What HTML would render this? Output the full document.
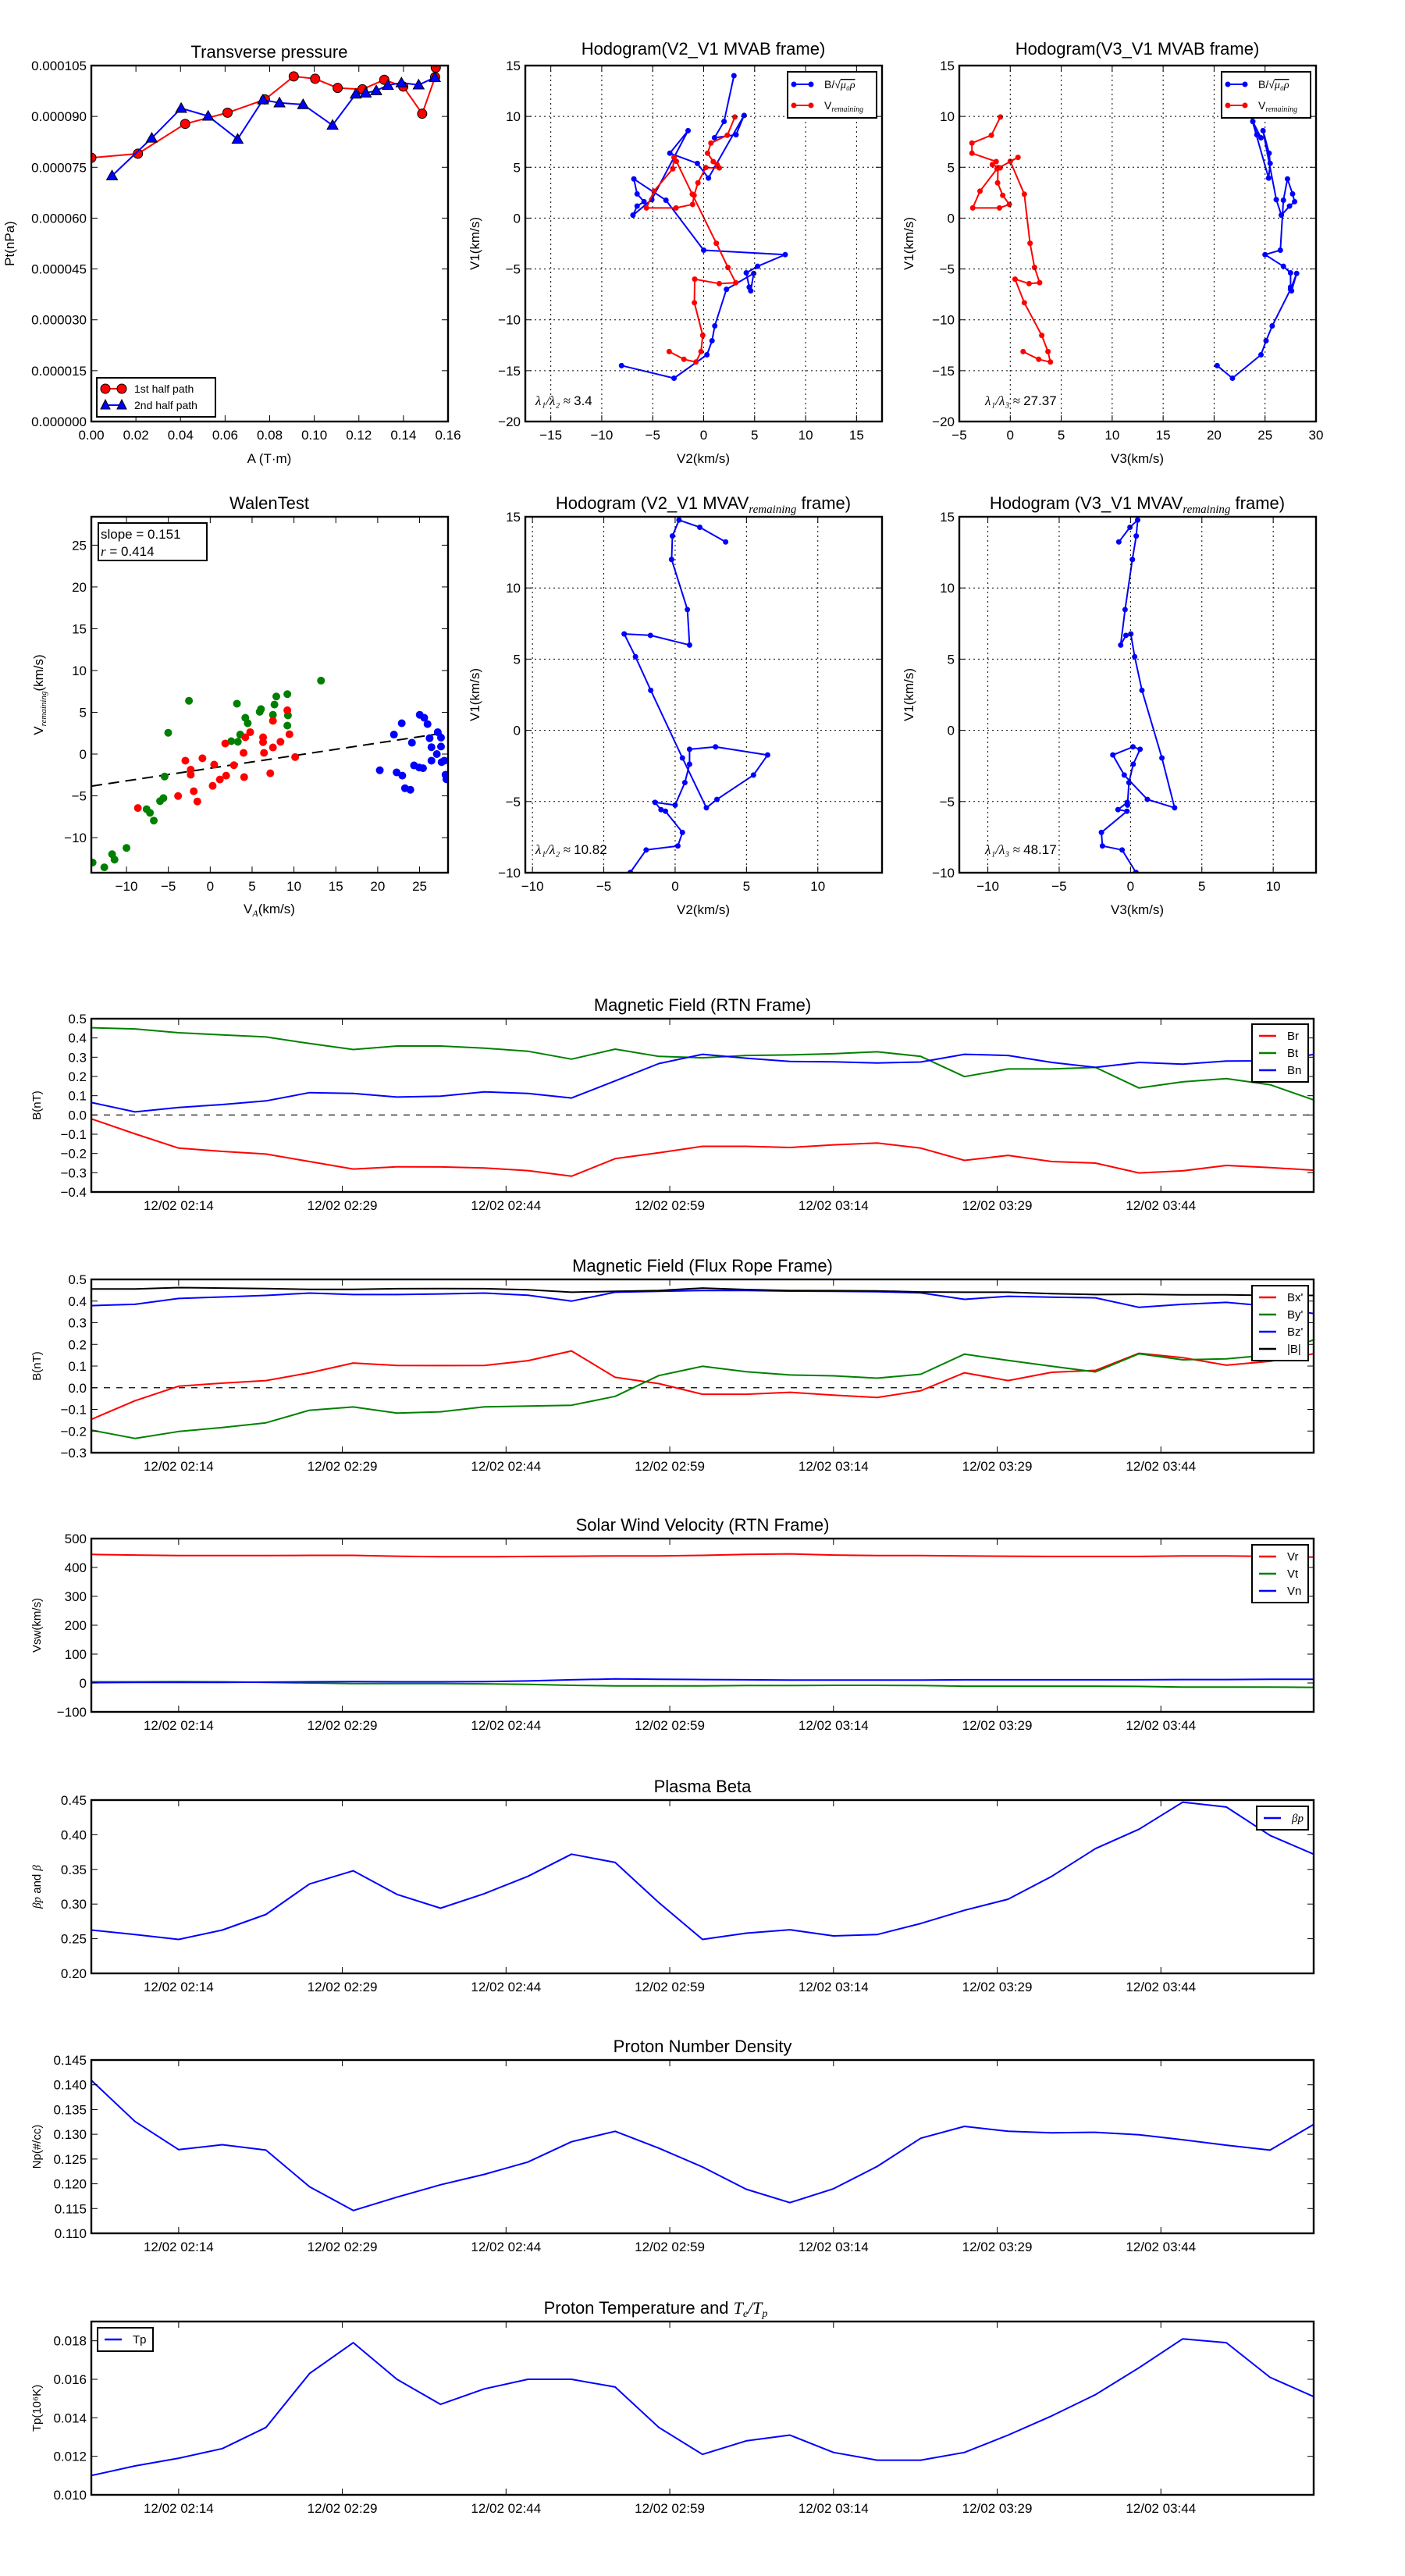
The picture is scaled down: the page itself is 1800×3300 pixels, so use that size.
<!DOCTYPE html>
<html><head><meta charset="utf-8"><title>Flux rope analysis</title>
<style>
html,body{margin:0;padding:0;background:#fff;}
svg{display:block;font-family:"Liberation Sans","DejaVu Sans",sans-serif;}
</style></head>
<body>
<svg id="fig" xmlns="http://www.w3.org/2000/svg" width="1800" height="3300" viewBox="0 0 1800 3300">
<rect x="0" y="0" width="1800" height="3300" fill="#fff"/>
</svg>
<script>
// ---------- Transverse pressure (units 1e-6 nPa) ----------
const ptA1 = [0, 0.0209, 0.0421, 0.0611, 0.0779, 0.0908, 0.1004, 0.1105, 0.1216, 0.1314, 0.1399, 0.1484, 0.1542, 0.1545];
const ptP1 = [77.8, 79.0, 87.8, 91.1, 95.0, 101.8, 101.1, 98.4, 98.0, 100.8, 98.8, 90.8, 101.6, 104.4];
const ptA2 = [0.0093, 0.0271, 0.0403, 0.0524, 0.0656, 0.0770, 0.0844, 0.0950, 0.1082, 0.1186, 0.1231, 0.1278, 0.1330, 0.1391, 0.1468, 0.1541];
const ptP2 = [72.5, 83.6, 92.4, 90.1, 83.3, 94.9, 94.0, 93.5, 87.4, 96.6, 96.9, 97.6, 99.2, 99.9, 99.3, 101.5];

// ---------- MVAB hodograms ----------
const bV1 = [14.0, 9.5, 7.9, 8.2, 10.1, 3.94, 5.38, 6.38, 8.6, 1.82, 0.29, 1.18, 1.62, 2.38, 3.85, 1.76, -3.15, -3.59, -4.74, -5.38, -6.79, -7.15, -5.44, -7.0, -10.6, -12.06, -13.44, -15.74, -14.5];
const bV2 = [2.97, 2.0, 1.06, 3.18, 3.97, 0.47, -0.62, -3.32, -1.53, -5.09, -6.94, -6.53, -5.85, -6.53, -6.85, -3.7, 0, 8.0, 5.29, 4.18, 4.47, 4.62, 4.91, 2.24, 1.09, 0.82, 0.32, -2.91, -8.06];
const bV3 = [23.3, 23.8, 24.6, 24.2, 23.6, 25.35, 25.5, 25.4, 24.8, 26.1, 26.6, 27.4, 27.9, 27.7, 27.2, 26.8, 26.5, 25.0, 26.8, 27.5, 27.5, 27.6, 28.1, 27.5, 25.7, 25.1, 24.6, 21.8, 20.3];
const vV1 = [9.94, 8.15, 7.38, 6.38, 5.56, 5.26, 4.94, 4.97, 3.47, 2.24, 1.35, 1.0, 1.0, 2.65, 4.85, 5.97, 5.59, 2.35, -2.47, -4.85, -6.35, -6.44, -6.0, -8.32, -11.53, -13.12, -14.15, -13.88, -13.12];
const vV2 = [3.06, 2.32, 0.71, 0.38, 0.94, 1.32, 1.53, 0.21, -0.56, -0.94, -1.09, -2.71, -5.62, -4.88, -3.03, -2.91, -2.68, -1.12, 1.24, 2.38, 3.15, 1.53, -0.88, -0.91, -0.09, -0.26, -0.76, -1.94, -3.38];
const vV3 = [-0.97, -1.85, -3.76, -3.76, -1.38, -1.76, -1.0, -1.2, -1.24, -0.74, -0.09, -1.06, -3.68, -2.97, -1.3, 0.76, 0.0, 1.38, 1.94, 2.38, 2.88, 1.85, 0.47, 1.38, 3.09, 3.7, 3.94, 2.79, 1.26];

// ---------- MVAV hodograms ----------
const mV1 = [13.23, 14.26, 14.77, 13.65, 12.0, 8.48, 5.99, 6.67, 6.77, 5.17, 2.81, -1.94, -5.44, -4.85, -3.14, -1.73, -1.16, -1.33, -2.38, -3.67, -5.25, -5.06, -5.57, -5.68, -7.17, -8.12, -8.4, -9.98, -11.5];
const mV2 = [3.54, 1.73, 0.27, -0.19, -0.25, 0.86, 1.01, -1.73, -3.57, -2.78, -1.71, 0.51, 2.19, 2.93, 5.49, 6.48, 2.83, 1.01, 1.01, 0.68, 0, -1.41, -0.99, -0.68, 0.51, 0.19, -2.03, -3.14, -4.5];
const mV3 = [-0.82, -0.04, 0.5, 0.4, 0.13, -0.38, -0.69, -0.32, 0.02, 0.29, 0.8, 2.2, 3.09, 1.18, -0.44, -1.24, 0.17, 0.67, 0.19, -0.11, -0.21, -0.23, -0.88, -0.25, -2.04, -1.97, -0.59, 0.38, 1.0];

// ---------- Walen test ----------
const wGreenX = [-2.54, -5.02, -5.45, -5.59, -5.99, -7.6, -7.2, -6.74, -10, -11.72, -11.43, -12.65, -14.05, 2.51, 3.3, 3.58, 3.19, 4.19, 4.48, 5.91, 6.06, 7.49, 7.67, 7.89, 9.21, 9.21, 9.28, 13.23];
const wGreenY = [6.38, 2.55, -2.69, -5.27, -5.63, -6.6, -7.03, -7.96, -11.23, -11.98, -12.63, -13.56, -12.98, 1.54, 1.47, 2.33, 6.03, 4.34, 3.69, 5.06, 5.38, 4.7, 5.92, 6.89, 7.17, 3.41, 4.63, 8.79];
const wRedX = [-8.64, -3.84, -2.97, -2.33, -2.33, -1.97, -1.54, -0.93, 0.29, 0.47, 1.15, 1.79, 1.9, 2.83, 3.98, 4.05, 4.19, 4.77, 6.31, 6.31, 6.42, 7.17, 7.49, 7.49, 8.39, 9.21, 9.46, 10.14];
const wRedY = [-6.46, -5.02, -0.79, -1.87, -2.47, -4.45, -5.67, -0.5, -3.8, -1.26, -3.05, 1.26, -2.58, -1.33, 0.14, -2.76, 2.01, 2.62, 2.01, 1.43, 0.14, -2.3, 3.98, 0.79, 1.47, 5.24, 2.37, -0.36];
const wBlueX = [20.25, 21.94, 22.26, 22.87, 22.94, 23.26, 23.9, 24.09, 24.34, 25.02, 24.95, 25.41, 25.56, 25.95, 26.2, 26.42, 26.42, 27.17, 27.06, 27.56, 27.56, 27.63, 27.96, 28.1, 28.2];
const wBlueY = [-1.94, 2.33, -2.19, 3.69, -2.58, -4.09, -4.27, 1.36, -1.36, 4.7, -1.61, -1.69, 4.34, 3.59, 1.9, 0.82, -0.79, 2.62, 0, 0.9, 1.97, -0.97, -0.79, -2.47, -3.01];
const walenSlope = 0.151;
const walenIntercept = -1.70;

// ---------- Time series (minutes after 02:06, 4-min cadence) ----------
const tMin = [0,4,8,12,16,20,24,28,32,36,40,44,48,52,56,60,64,68,72,76,80,84,88,92,96,100,104,108,112];
const timeTickMin = [8, 23, 38, 53, 68, 83, 98];
const timeTickLabels = ["12/02 02:14","12/02 02:29","12/02 02:44","12/02 02:59","12/02 03:14","12/02 03:29","12/02 03:44"];
const Br = [-0.020,-0.098,-0.172,-0.189,-0.203,-0.242,-0.281,-0.269,-0.270,-0.275,-0.289,-0.318,-0.227,-0.196,-0.163,-0.163,-0.169,-0.155,-0.146,-0.172,-0.236,-0.210,-0.242,-0.250,-0.301,-0.290,-0.262,-0.273,-0.287];
const Bt = [0.453,0.447,0.427,0.416,0.405,0.371,0.340,0.358,0.358,0.347,0.331,0.290,0.342,0.304,0.297,0.309,0.312,0.318,0.328,0.304,0.199,0.239,0.239,0.247,0.140,0.172,0.189,0.157,0.078];
const Bn = [0.065,0.016,0.039,0.054,0.073,0.116,0.112,0.093,0.098,0.120,0.112,0.088,0.177,0.267,0.315,0.295,0.278,0.276,0.270,0.275,0.315,0.309,0.273,0.247,0.273,0.264,0.280,0.281,0.314];
const Bx = [-0.146,-0.060,0.007,0.021,0.033,0.069,0.114,0.103,0.102,0.103,0.125,0.170,0.048,0.019,-0.030,-0.030,-0.021,-0.034,-0.045,-0.014,0.069,0.033,0.071,0.080,0.159,0.139,0.104,0.122,0.157];
const By = [-0.196,-0.234,-0.202,-0.184,-0.162,-0.104,-0.089,-0.117,-0.111,-0.088,-0.085,-0.081,-0.040,0.056,0.099,0.074,0.059,0.055,0.044,0.062,0.155,0.126,0.099,0.073,0.157,0.129,0.133,0.151,0.221];
const Bz = [0.379,0.385,0.412,0.419,0.426,0.437,0.430,0.430,0.433,0.437,0.427,0.400,0.441,0.445,0.449,0.449,0.446,0.445,0.443,0.438,0.408,0.422,0.418,0.415,0.371,0.385,0.394,0.376,0.342];
const Bmag = [0.456,0.456,0.462,0.460,0.458,0.454,0.454,0.457,0.458,0.457,0.452,0.441,0.445,0.449,0.460,0.453,0.449,0.448,0.447,0.442,0.441,0.441,0.434,0.430,0.431,0.429,0.429,0.426,0.426];
const Vr = [445,443,441,441,441,442,442,439,437,437,438,439,440,440,442,445,447,443,441,441,440,439,438,438,438,440,440,438,436];
const Vt = [4,4,5,4,2,0,-2,-2,-2,-3,-5,-8,-10,-10,-10,-9,-9,-8,-8,-9,-11,-11,-11,-11,-12,-14,-14,-14,-15];
const Vn = [1,2,2,2,3,4,5,4,4,5,7,11,14,13,12,11,10,10,10,10,11,11,11,11,11,12,12,13,13];
const betaP = [0.2625,0.256,0.249,0.2625,0.285,0.329,0.348,0.314,0.294,0.315,0.340,0.372,0.360,0.302,0.249,0.258,0.263,0.254,0.256,0.272,0.291,0.307,0.340,0.380,0.408,0.447,0.440,0.399,0.372];
const Np = [0.1409,0.1326,0.1269,0.1279,0.1268,0.1194,0.1146,0.1173,0.1198,0.1219,0.1244,0.1285,0.1306,0.1272,0.1234,0.1189,0.1162,0.1190,0.1235,0.1292,0.1316,0.1306,0.1303,0.1304,0.1299,0.1289,0.1278,0.1268,0.1320];
const Tp = [0.0110,0.0115,0.0119,0.0124,0.0135,0.0163,0.0179,0.0160,0.0147,0.0155,0.0160,0.0160,0.0156,0.0135,0.0121,0.0128,0.0131,0.0122,0.0118,0.0118,0.0122,0.0131,0.0141,0.0152,0.0166,0.0181,0.0179,0.0161,0.0151];

const NS = "http://www.w3.org/2000/svg";
const fig = document.getElementById("fig");
let clipId = 0;

function mk(parent, tag, attrs, name, inter) {
  const el = document.createElementNS(NS, tag);
  for (const k in attrs) el.setAttribute(k, attrs[k]);
  
  
  parent.appendChild(el);
  return el;
}
function txt(parent, x, y, s, size, anchor, name, extra) {
  const a = Object.assign({x: x, y: y, 'font-size': size, 'text-anchor': anchor || 'middle', fill: '#000'}, extra || {});
  const t = mk(parent, 'text', a, name, false);
  t.textContent = s;
  return t;
}
function fmtMinus(s) { return String(s).replace('-', '\u2212'); }

function makeAxes(name, L, T, R, B, xlim, ylim) {
  const g = mk(fig, 'g', {}, name, false);
  const sx = v => L + (v - xlim[0]) / (xlim[1] - xlim[0]) * (R - L);
  const sy = v => B - (v - ylim[0]) / (ylim[1] - ylim[0]) * (B - T);
  const id = 'clip' + (clipId++);
  const cp = mk(g, 'clipPath', {id: id}, name + '-clip', false);
  mk(cp, 'rect', {x: L, y: T, width: R - L, height: B - T}, name + '-clip-rect', false);
  const plot = mk(g, 'g', {'clip-path': 'url(#' + id + ')'}, name + '-plot-area', false);
  return {g, plot, sx, sy, L, T, R, B, name};
}
function frame(ax) {
  mk(ax.g, 'rect', {x: ax.L, y: ax.T, width: ax.R - ax.L, height: ax.B - ax.T, fill: 'none', stroke: '#000', 'stroke-width': 2.4}, ax.name + '-frame', false);
}
function xTicks(ax, vals, labels, size, grid) {
  vals.forEach((v, i) => {
    const x = ax.sx(v);
    if (grid) mk(ax.g, 'line', {x1: x, y1: ax.T, x2: x, y2: ax.B, stroke: '#000', 'stroke-width': 1, 'stroke-dasharray': '2,4'}, ax.name + '-xgrid', false);
    mk(ax.g, 'line', {x1: x, y1: ax.B, x2: x, y2: ax.B - 8, stroke: '#000', 'stroke-width': 1}, ax.name + '-xtick', false);
    mk(ax.g, 'line', {x1: x, y1: ax.T, x2: x, y2: ax.T + 8, stroke: '#000', 'stroke-width': 1}, ax.name + '-xtick-top', false);
    txt(ax.g, x, ax.B + 23, labels[i], size, 'middle', ax.name + '-xtick-label');
  });
}
function yTicks(ax, vals, labels, size, grid) {
  vals.forEach((v, i) => {
    const y = ax.sy(v);
    if (grid) mk(ax.g, 'line', {x1: ax.L, y1: y, x2: ax.R, y2: y, stroke: '#000', 'stroke-width': 1, 'stroke-dasharray': '2,4'}, ax.name + '-ygrid', false);
    mk(ax.g, 'line', {x1: ax.L, y1: y, x2: ax.L + 8, y2: y, stroke: '#000', 'stroke-width': 1}, ax.name + '-ytick', false);
    mk(ax.g, 'line', {x1: ax.R, y1: y, x2: ax.R - 8, y2: y, stroke: '#000', 'stroke-width': 1}, ax.name + '-ytick-right', false);
    txt(ax.g, ax.L - 6, y + 6, labels[i], size, 'end', ax.name + '-ytick-label');
  });
}
function line(ax, xs, ys, color, w, name, dash) {
  const pts = xs.map((x, i) => ax.sx(x).toFixed(1) + ',' + ax.sy(ys[i]).toFixed(1)).join(' ');
  const a = {points: pts, fill: 'none', stroke: color, 'stroke-width': w, 'stroke-linejoin': 'round'};
  if (dash) a['stroke-dasharray'] = dash;
  mk(ax.plot, 'polyline', a, name, false);
}
function dots(ax, xs, ys, color, r, name, stroke) {
  xs.forEach((x, i) => {
    mk(ax.plot, 'circle', {cx: ax.sx(x), cy: ax.sy(ys[i]), r: r, fill: color, stroke: stroke || 'none', 'stroke-width': 1}, name, false);
  });
}
function tris(ax, xs, ys, color, s, name) {
  xs.forEach((x, i) => {
    const cx = ax.sx(x), cy = ax.sy(ys[i]);
    mk(ax.plot, 'polygon', {points: `${cx},${cy - s} ${cx - s},${cy + s * 0.75} ${cx + s},${cy + s * 0.75}`, fill: color, stroke: '#000', 'stroke-width': 1}, name, false);
  });
}
function range(a, b, s) { const r = []; for (let v = a; v <= b + 1e-9; v += s) r.push(+v.toFixed(6)); return r; }
function ylabel(ax, x, s, size, name) {
  const t = txt(ax.g, 0, 0, s, size, 'middle', name);
  t.setAttribute('transform', `translate(${x},${(ax.T + ax.B) / 2}) rotate(-90)`);
  return t;
}

// ===== Panel 1: Transverse pressure =====
(function () {
  const ax = makeAxes('transverse-pressure-chart', 117, 84, 574, 540, [0, 0.16], [0, 105]);
  line(ax, ptA1, ptP1, '#ff0000', 2, 'first-half-path-line');
  dots(ax, ptA1, ptP1, '#ff0000', 6, 'first-half-path-marker', '#000');
  line(ax, ptA2, ptP2, '#0000ff', 2, 'second-half-path-line');
  tris(ax, ptA2, ptP2, '#0000ff', 7, 'second-half-path-marker');
  const xv = range(0, 0.16, 0.02);
  xTicks(ax, xv, xv.map(v => v.toFixed(2)), 17);
  const yv = range(0, 105, 15);
  yTicks(ax, yv, yv.map(v => (v * 1e-6).toFixed(6)), 17);
  frame(ax);
  txt(ax.g, 345, 74, 'Transverse pressure', 22, 'middle', 'chart-title');
  txt(ax.g, 345, 593, 'A (T\u00b7m)', 17, 'middle', 'x-axis-title');
  ylabel(ax, 18, 'Pt(nPa)', 17, 'y-axis-title');
  const lg = mk(ax.g, 'g', {}, 'legend', false);
  mk(lg, 'rect', {x: 124, y: 484, width: 152, height: 50, fill: '#fff', stroke: '#000', 'stroke-width': 2}, 'legend-box', false);
  mk(lg, 'line', {x1: 135, y1: 498, x2: 156, y2: 498, stroke: '#f00', 'stroke-width': 2}, 'legend-line-1st', false);
  mk(lg, 'circle', {cx: 135, cy: 498, r: 6, fill: '#f00', stroke: '#000'}, 'legend-marker-1st', false);
  mk(lg, 'circle', {cx: 156, cy: 498, r: 6, fill: '#f00', stroke: '#000'}, 'legend-marker-1st', false);
  txt(lg, 172, 503, '1st half path', 14, 'start', 'legend-entry-1st');
  mk(lg, 'line', {x1: 135, y1: 519, x2: 156, y2: 519, stroke: '#00f', 'stroke-width': 2}, 'legend-line-2nd', false);
  mk(lg, 'polygon', {points: '135,512 129,524 141,524', fill: '#00f', stroke: '#000'}, 'legend-marker-2nd', false);
  mk(lg, 'polygon', {points: '156,512 150,524 162,524', fill: '#00f', stroke: '#000'}, 'legend-marker-2nd', false);
  txt(lg, 172, 524, '2nd half path', 14, 'start', 'legend-entry-2nd');
})();

function hodoLegend(ax, x, y) {
  const lg = mk(ax.g, 'g', {}, 'legend', false);
  mk(lg, 'rect', {x: x, y: y, width: 114, height: 59, fill: '#fff', stroke: '#000', 'stroke-width': 2}, 'legend-box', false);
  mk(lg, 'line', {x1: x + 8, y1: y + 16, x2: x + 30, y2: y + 16, stroke: '#00f', 'stroke-width': 2}, 'legend-line-b', false);
  mk(lg, 'circle', {cx: x + 8, cy: y + 16, r: 3.5, fill: '#00f'}, 'legend-marker-b', false);
  mk(lg, 'circle', {cx: x + 30, cy: y + 16, r: 3.5, fill: '#00f'}, 'legend-marker-b', false);
  const t1 = txt(lg, x + 47, y + 21, 'B/\u221a', 14, 'start', 'legend-entry-b-alfven');
  const ts = mk(t1, 'tspan', {'font-style': 'italic', 'font-family': '"Liberation Serif",serif', 'text-decoration': 'overline'}, 'legend-sqrt-arg', false);
  ts.textContent = '\u03bc\u2080\u03c1';
  mk(lg, 'line', {x1: x + 8, y1: y + 43, x2: x + 30, y2: y + 43, stroke: '#f00', 'stroke-width': 2}, 'legend-line-v', false);
  mk(lg, 'circle', {cx: x + 8, cy: y + 43, r: 3.5, fill: '#f00'}, 'legend-marker-v', false);
  mk(lg, 'circle', {cx: x + 30, cy: y + 43, r: 3.5, fill: '#f00'}, 'legend-marker-v', false);
  const t2 = txt(lg, x + 47, y + 48, 'V', 14, 'start', 'legend-entry-v-remaining');
  const ts2 = mk(t2, 'tspan', {'font-size': 10, 'font-style': 'italic', 'font-family': '"Liberation Serif",serif', dy: 3}, 'legend-subscript', false);
  ts2.textContent = 'remaining';
}
function ratioText(ax, x, y, a, b, val, name) {
  const t = txt(ax.g, x, y, '', 17, 'start', name);
  const s1 = mk(t, 'tspan', {'font-style': 'italic', 'font-family': '"Liberation Serif",serif'}, name + '-symbol', false);
  s1.textContent = '\u03bb' + a + '/\u03bb' + b + ' \u2248 ';
  const s2 = mk(t, 'tspan', {}, name + '-value', false);
  s2.textContent = val;
}
function hodo(name, L, T, xlim, ylim, xv, yv, xlab, title, series) {
  const ax = makeAxes(name, L, T, L + 457, T + 456, xlim, ylim);
  xTicks(ax, xv, xv.map(v => fmtMinus(v)), 17, true);
  yTicks(ax, yv, yv.map(v => fmtMinus(v)), 17, true);
  series.forEach(s => { line(ax, s.x, s.y, s.c, 2, s.n + '-line'); dots(ax, s.x, s.y, s.c, 3.5, s.n + '-point'); });
  frame(ax);
  txt(ax.g, L + 228, T - 14, title, 22, 'middle', 'chart-title');
  txt(ax.g, L + 228, T + 509, xlab, 17, 'middle', 'x-axis-title');
  ylabel(ax, L - 59, 'V1(km/s)', 17, 'y-axis-title');
  return ax;
}

// ===== Row 1 hodograms =====
(function () {
  const ax = hodo('hodogram-v2-v1-mvab', 673, 84, [-17.5, 17.5], [-20, 15], range(-15, 15, 5), range(-20, 15, 5), 'V2(km/s)', 'Hodogram(V2_V1 MVAB frame)',
    [{x: bV2, y: bV1, c: '#0000ff', n: 'b-alfven'}, {x: vV2, y: vV1, c: '#ff0000', n: 'v-remaining'}]);
  hodoLegend(ax, 1009, 92);
  ratioText(ax, 686, 519, '\u2081', '\u2082', '3.4', 'eigenvalue-ratio');
})();
(function () {
  const ax = hodo('hodogram-v3-v1-mvab', 1229, 84, [-5, 30], [-20, 15], range(-5, 30, 5), range(-20, 15, 5), 'V3(km/s)', 'Hodogram(V3_V1 MVAB frame)',
    [{x: bV3, y: bV1, c: '#0000ff', n: 'b-alfven'}, {x: vV3, y: vV1, c: '#ff0000', n: 'v-remaining'}]);
  hodoLegend(ax, 1565, 92);
  ratioText(ax, 1262, 519, '\u2081', '\u2083', '27.37', 'eigenvalue-ratio');
})();

// ===== Walen test =====
(function () {
  const ax = makeAxes('walen-test-chart', 117, 662, 574, 1118, [-14.2, 28.4], [-14.2, 28.4]);
  const xl = [-14.2, 28.4];
  line(ax, xl, xl.map(v => walenSlope * v + walenIntercept), '#000', 2, 'walen-fit-line', '14,8');
  dots(ax, wGreenX, wGreenY, '#008000', 5, 'walen-point-green');
  dots(ax, wRedX, wRedY, '#ff0000', 5, 'walen-point-red');
  dots(ax, wBlueX, wBlueY, '#0000ff', 5, 'walen-point-blue');
  const xv = range(-10, 25, 5);
  xTicks(ax, xv, xv.map(v => fmtMinus(v)), 17);
  const yv = range(-10, 25, 5);
  yTicks(ax, yv, yv.map(v => fmtMinus(v)), 17);
  frame(ax);
  txt(ax.g, 345, 652, 'WalenTest', 22, 'middle', 'chart-title');
  const xt = txt(ax.g, 345, 1170, 'V', 17, 'middle', 'x-axis-title');
  const xs = mk(xt, 'tspan', {'font-size': 12, 'font-style': 'italic', 'font-family': '"Liberation Serif",serif', dy: 4}, 'x-axis-subscript', false);
  xs.textContent = 'A';
  const xs2 = mk(xt, 'tspan', {dy: -4}, 'x-axis-unit', false);
  xs2.textContent = '(km/s)';
  const yt = ylabel(ax, 55, 'V', 17, 'y-axis-title');
  const ys = mk(yt, 'tspan', {'font-size': 11, 'font-style': 'italic', 'font-family': '"Liberation Serif",serif', dy: 4}, 'y-axis-subscript', false);
  ys.textContent = 'remaining';
  const ys2 = mk(yt, 'tspan', {dy: -4}, 'y-axis-unit', false);
  ys2.textContent = '(km/s)';
  mk(ax.g, 'rect', {x: 126, y: 670, width: 139, height: 48, fill: '#fff', stroke: '#000', 'stroke-width': 2}, 'stats-box', false);
  txt(ax.g, 129, 690, 'slope = 0.151', 17, 'start', 'slope-text');
  const rt = txt(ax.g, 129, 712, '', 17, 'start', 'correlation-text');
  const r1 = mk(rt, 'tspan', {'font-style': 'italic', 'font-family': '"Liberation Serif",serif'}, 'r-symbol', false);
  r1.textContent = 'r';
  const r2 = mk(rt, 'tspan', {}, 'r-value', false);
  r2.textContent = ' = 0.414';
})();

// ===== Row 2 MVAV hodograms =====
(function () {
  const ax = hodo('hodogram-v2-v1-mvav', 673, 662, [-10.5, 14.5], [-10, 15], range(-10, 10, 5), range(-10, 15, 5), 'V2(km/s)', '',
    [{x: mV2, y: mV1, c: '#0000ff', n: 'mvav-trajectory'}]);
  const t = txt(ax.g, 901, 652, 'Hodogram (V2_V1 MVAV', 22, 'middle', 'chart-title');
  const s = mk(t, 'tspan', {'font-size': 15, 'font-style': 'italic', 'font-family': '"Liberation Serif",serif', dy: 5}, 'title-subscript', false);
  s.textContent = 'remaining';
  const s2 = mk(t, 'tspan', {dy: -5}, 'title-end', false);
  s2.textContent = ' frame)';
  ratioText(ax, 686, 1094, '\u2081', '\u2082', '10.82', 'eigenvalue-ratio');
})();
(function () {
  const ax = hodo('hodogram-v3-v1-mvav', 1229, 662, [-12, 13], [-10, 15], range(-10, 10, 5), range(-10, 15, 5), 'V3(km/s)', '',
    [{x: mV3, y: mV1, c: '#0000ff', n: 'mvav-trajectory'}]);
  const t = txt(ax.g, 1457, 652, 'Hodogram (V3_V1 MVAV', 22, 'middle', 'chart-title');
  const s = mk(t, 'tspan', {'font-size': 15, 'font-style': 'italic', 'font-family': '"Liberation Serif",serif', dy: 5}, 'title-subscript', false);
  s.textContent = 'remaining';
  const s2 = mk(t, 'tspan', {dy: -5}, 'title-end', false);
  s2.textContent = ' frame)';
  ratioText(ax, 1262, 1094, '\u2081', '\u2083', '48.17', 'eigenvalue-ratio');
})();

// ===== Time series panels =====
function tsPanel(name, T, ylim, yv, ydec, title, ylab, series, legend, zero) {
  const ax = makeAxes(name, 117, T, 1683, T + 222, [0, 112], ylim);
  if (zero) mk(ax.plot, 'line', {x1: ax.L, y1: ax.sy(0), x2: ax.R, y2: ax.sy(0), stroke: '#000', 'stroke-width': 1.2, 'stroke-dasharray': '8,8'}, name + '-zero-line', false);
  series.forEach(s => line(ax, tMin, s.y, s.c, 2, s.n));
  xTicks(ax, timeTickMin, timeTickLabels, 17);
  yTicks(ax, yv, yv.map(v => fmtMinus(v.toFixed(ydec))), 17);
  frame(ax);
  txt(ax.g, 900, T - 10, '', 22, 'middle', 'chart-title').textContent = title;
  const yl = ylabel(ax, 52, ylab, 15, 'y-axis-title');
  if (legend) {
    const lg = mk(ax.g, 'g', {}, 'legend', false);
    const h = legend.items.length * 22 + 8;
    mk(lg, 'rect', {x: legend.x, y: legend.y, width: legend.w, height: h, fill: '#fff', stroke: '#000', 'stroke-width': 2}, 'legend-box', false);
    legend.items.forEach((it, i) => {
      const yy = legend.y + 15 + i * 22;
      mk(lg, 'line', {x1: legend.x + 9, y1: yy, x2: legend.x + 31, y2: yy, stroke: it.c, 'stroke-width': 2.5}, 'legend-line', false);
      const t = txt(lg, legend.x + 45, yy + 5, it.t, 15, 'start', 'legend-entry');
      if (it.italic) { t.setAttribute('font-style', 'italic'); t.setAttribute('font-family', '"Liberation Serif",serif'); }
    });
  }
  return {ax, yl};
}

tsPanel('magnetic-field-rtn-chart', 1305, [-0.4, 0.5], range(-0.4, 0.5, 0.1), 1, 'Magnetic Field (RTN Frame)', 'B(nT)',
  [{y: Br, c: '#ff0000', n: 'br-line'}, {y: Bt, c: '#008000', n: 'bt-line'}, {y: Bn, c: '#0000ff', n: 'bn-line'}],
  {x: 1604, y: 1312, w: 72, items: [{t: 'Br', c: '#ff0000'}, {t: 'Bt', c: '#008000'}, {t: 'Bn', c: '#0000ff'}]}, true);

tsPanel('magnetic-field-flux-rope-chart', 1639, [-0.3, 0.5], range(-0.3, 0.5, 0.1), 1, 'Magnetic Field (Flux Rope Frame)', 'B(nT)',
  [{y: Bx, c: '#ff0000', n: 'bx-line'}, {y: By, c: '#008000', n: 'by-line'}, {y: Bz, c: '#0000ff', n: 'bz-line'}, {y: Bmag, c: '#000000', n: 'bmag-line'}],
  {x: 1604, y: 1647, w: 72, items: [{t: "Bx'", c: '#ff0000'}, {t: "By'", c: '#008000'}, {t: "Bz'", c: '#0000ff'}, {t: '|B|', c: '#000000'}]}, true);

tsPanel('solar-wind-velocity-chart', 1971, [-100, 500], range(-100, 500, 100), 0, 'Solar Wind Velocity (RTN Frame)', 'Vsw(km/s)',
  [{y: Vr, c: '#ff0000', n: 'vr-line'}, {y: Vt, c: '#008000', n: 'vt-line'}, {y: Vn, c: '#0000ff', n: 'vn-line'}],
  {x: 1604, y: 1979, w: 72, items: [{t: 'Vr', c: '#ff0000'}, {t: 'Vt', c: '#008000'}, {t: 'Vn', c: '#0000ff'}]}, false);

(function () {
  const r = tsPanel('plasma-beta-chart', 2306, [0.2, 0.45], range(0.2, 0.45, 0.05), 2, 'Plasma Beta', '',
    [{y: betaP, c: '#0000ff', n: 'beta-p-line'}],
    {x: 1610, y: 2314, w: 66, items: [{t: '\u03b2p', c: '#0000ff', italic: true}]}, false);
  const b1 = mk(r.yl, 'tspan', {'font-style': 'italic', 'font-family': '"Liberation Serif",serif'}, 'beta-p-symbol', false);
  b1.textContent = '\u03b2p';
  const b2 = mk(r.yl, 'tspan', {}, 'beta-and', false);
  b2.textContent = ' and ';
  const b3 = mk(r.yl, 'tspan', {'font-style': 'italic', 'font-family': '"Liberation Serif",serif'}, 'beta-symbol', false);
  b3.textContent = '\u03b2';
})();

tsPanel('proton-density-chart', 2639, [0.11, 0.145], range(0.11, 0.145, 0.005), 3, 'Proton Number Density', 'Np(#/cc)',
  [{y: Np, c: '#0000ff', n: 'np-line'}], null, false);

(function () {
  const r = tsPanel('proton-temperature-chart', 2974, [0.010, 0.019], range(0.010, 0.018, 0.002), 3, '', 'Tp(10\u2076K)',
    [{y: Tp, c: '#0000ff', n: 'tp-line'}],
    {x: 125, y: 2982, w: 71, items: [{t: 'Tp', c: '#0000ff'}]}, false);
  const t = txt(r.ax.g, 840, 2964, 'Proton Temperature and ', 22, 'middle', 'chart-title');
  const s = mk(t, 'tspan', {'font-style': 'italic', 'font-family': '"Liberation Serif",serif'}, 'title-ratio', false);
  s.textContent = 'T';
  const s1 = mk(t, 'tspan', {'font-style': 'italic', 'font-family': '"Liberation Serif",serif', 'font-size': 14, dy: 4}, 'title-ratio-sub-e', false);
  s1.textContent = 'e';
  const s2 = mk(t, 'tspan', {'font-style': 'italic', 'font-family': '"Liberation Serif",serif', dy: -4}, 'title-ratio-slash', false);
  s2.textContent = '/T';
  const s3 = mk(t, 'tspan', {'font-style': 'italic', 'font-family': '"Liberation Serif",serif', 'font-size': 14, dy: 4}, 'title-ratio-sub-p', false);
  s3.textContent = 'p';
})();
</script>
</body></html>
